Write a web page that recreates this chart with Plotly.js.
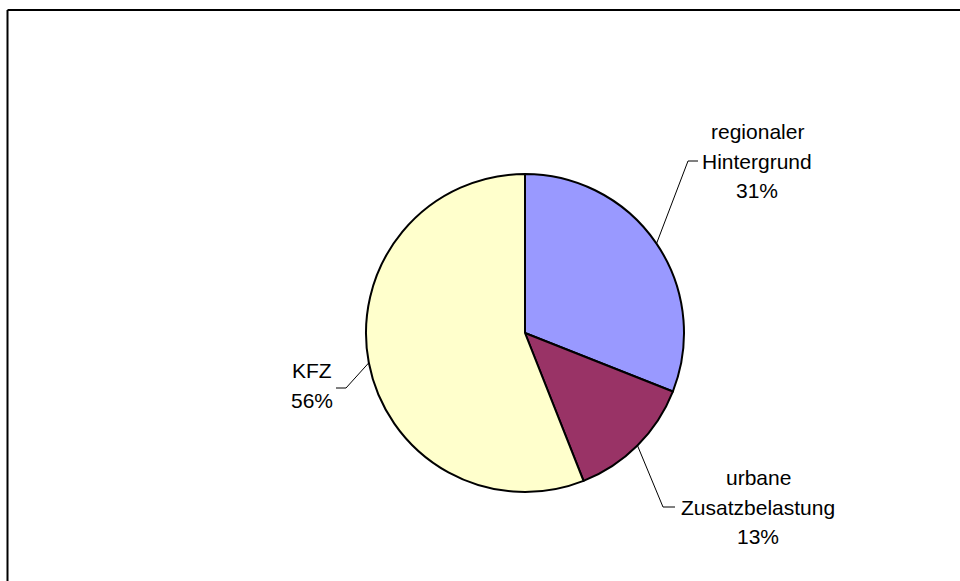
<!DOCTYPE html>
<html>
<head>
<meta charset="utf-8">
<script src="https://cdn.plot.ly/plotly-3.0.1.min.js"></script>
<style>html,body{margin:0;padding:0;background:#fff;overflow:hidden;}#chart{width:960px;height:581px;}</style>
</head>
<body>
<div id="chart"></div>
<script>
// ---- data ----
const categories = ["regionaler Hintergrund", "urbane Zusatzbelastung", "KFZ"];
const labelLines = [["regionaler", "Hintergrund"], ["urbane", "Zusatzbelastung"], ["KFZ"]];
const values = [31, 13, 56];
const colors = ["#9999FF", "#993366", "#FFFFCC"];

// ---- layout config (pixels) ----
const W = 960, H = 581;
const cx = 525, cy = 333, R = 159;
const lineGap = 29.5;
// label placement relative to pie centre: text centre, elbow and end of leader
const labelCfg = [
  {tx: 232, ty: -172, ex: 163, ey: -172, hx: 173},
  {tx: 233, ty: 174, ex: 138, ey: 174, hx: 150},
  {tx: -213, ty: 52.5, ex: -179, ey: 55, hx: -189}
];
const px = x => x / W;
const py = y => 1 - y / H;

const total = values.reduce((a, b) => a + b, 0);
let cum = 0;
const annotations = [];
const shapes = [];
values.forEach((v, i) => {
  const mid = (cum + v / 2) / total * 2 * Math.PI;
  cum += v;
  const exPt = [cx + R * Math.sin(mid), cy - R * Math.cos(mid)];
  const c = labelCfg[i];
  const elbow = [cx + c.ex, cy + c.ey];
  const end = [cx + c.hx, cy + c.ey];
  shapes.push({
    type: 'path', xref: 'paper', yref: 'paper',
    path: `M ${px(exPt[0])},${py(exPt[1])} L ${px(elbow[0])},${py(elbow[1])} L ${px(end[0])},${py(end[1])}`,
    line: {color: '#000', width: 1}
  });
  const pct = Math.round(v / total * 100) + '%';
  const lines = labelLines[i].concat([pct]);
  const n = lines.length;
  lines.forEach((t, k) => {
    annotations.push({
      xref: 'paper', yref: 'paper', x: px(cx + c.tx),
      y: py(cy + c.ty + (k - (n - 1) / 2) * lineGap),
      xanchor: 'center', yanchor: 'middle', showarrow: false,
      text: t,
      font: {family: 'Liberation Sans, Arial, sans-serif', size: 21, color: '#000'}
    });
  });
});

// outer chart border: only its left and top edges fall inside the view
shapes.push({
  type: 'line', xref: 'paper', yref: 'paper',
  x0: px(7.5), x1: px(7.5), y0: 0, y1: py(10),
  line: {color: '#000', width: 2}
});
shapes.push({
  type: 'line', xref: 'paper', yref: 'paper',
  x0: px(7.5), x1: 1, y0: py(10), y1: py(10),
  line: {color: '#000', width: 2}
});

const trace = {
  type: 'pie',
  labels: categories,
  values: values,
  sort: false,
  direction: 'clockwise',
  rotation: 0,
  textinfo: 'none',
  hoverinfo: 'label+percent',
  marker: {colors: colors, line: {color: '#000', width: 2}},
  domain: {x: [px(cx - R), px(cx + R)], y: [py(cy + R), py(cy - R)]}
};

const layout = {
  width: W, height: H,
  margin: {l: 0, r: 0, t: 0, b: 0},
  showlegend: false,
  paper_bgcolor: '#fff',
  shapes: shapes,
  annotations: annotations
};

Plotly.newPlot('chart', [trace], layout, {displayModeBar: false, staticPlot: true});
</script>
</body>
</html>
